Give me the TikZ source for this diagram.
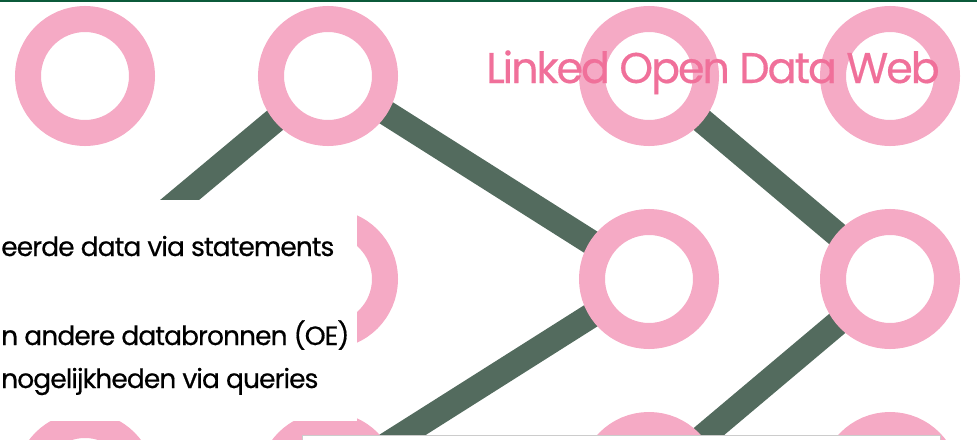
\documentclass[tikz,border=0pt]{standalone}
\usepackage{fontspec}
\setmainfont{Poppins}
\newfontfamily\titelfont{Poppins}[LetterSpace=-5, FakeBold=0.4]
\newfontfamily\tekstfont{Poppins}[LetterSpace=-3.5, FakeBold=0.5]
\usetikzlibrary{backgrounds}

\definecolor{ringroze}{HTML}{F5AAC5}
\definecolor{titelroze}{HTML}{F0709A}
\definecolor{lijngroen}{HTML}{536B5E}
\definecolor{balkgroen}{HTML}{0B5A3A}

\tikzset{
  knoop/.style={circle, draw=ringroze, line width=26pt, fill=white, minimum size=114pt, inner sep=0pt},
  verbinding/.style={draw=lijngroen, line width=25pt},
  tekstregel/.style={anchor=base west, inner sep=0pt, font=\tekstfont\fontsize{26.5}{30}\selectfont}
}

\begin{document}
\begin{tikzpicture}[x=1pt, y=-1pt]
        \useasboundingbox (0,0) rectangle (977,439);
        \clip (0,0) rectangle (977,439);

        % Knopen
        \foreach \r/\y in {1/76, 2/279, 3/482} {
            \node[knoop] (k\r1) at (85,\y) {};
            \node[knoop] (k\r2) at (328,\y) {};
            \node[knoop] (k\r3) at (649,\y) {};
            \node[knoop] (k\r4) at (890,\y) {};
        }

        % Verbindingen
        \begin{scope}[on background layer]
            \draw[verbinding] (k12.center) -- (k21.center);
            \draw[verbinding] (k12.center) -- (k23.center);
            \draw[verbinding] (k13.center) -- (k24.center);
            \draw[verbinding] (k23.center) -- (k32.center);
            \draw[verbinding] (k24.center) -- (k33.center);
        \end{scope}

        % Titel
        \node[anchor=base west, inner sep=0pt, text=titelroze, font=\titelfont\fontsize{43}{50}\selectfont] (titel) at (486,83) {Linked Open Data Web};

        % Tekstvakken
        \fill[white] (-10,200) rectangle (357,421);
        \filldraw[fill=white, draw=black!20, line width=0.8pt] (302,435) rectangle (940,460);

        % Tekst
        \node[tekstregel] (regel1) at (1,256) {eerde data via statements};
        \node[tekstregel] (regel2) at (1,345) {n andere databronnen (OE)};
        \node[tekstregel] (regel3) at (1,388) {nogelijkheden via queries};

        % Balk
        \fill[balkgroen] (0,0) rectangle (977,2);
    \end{tikzpicture}
\end{document}
